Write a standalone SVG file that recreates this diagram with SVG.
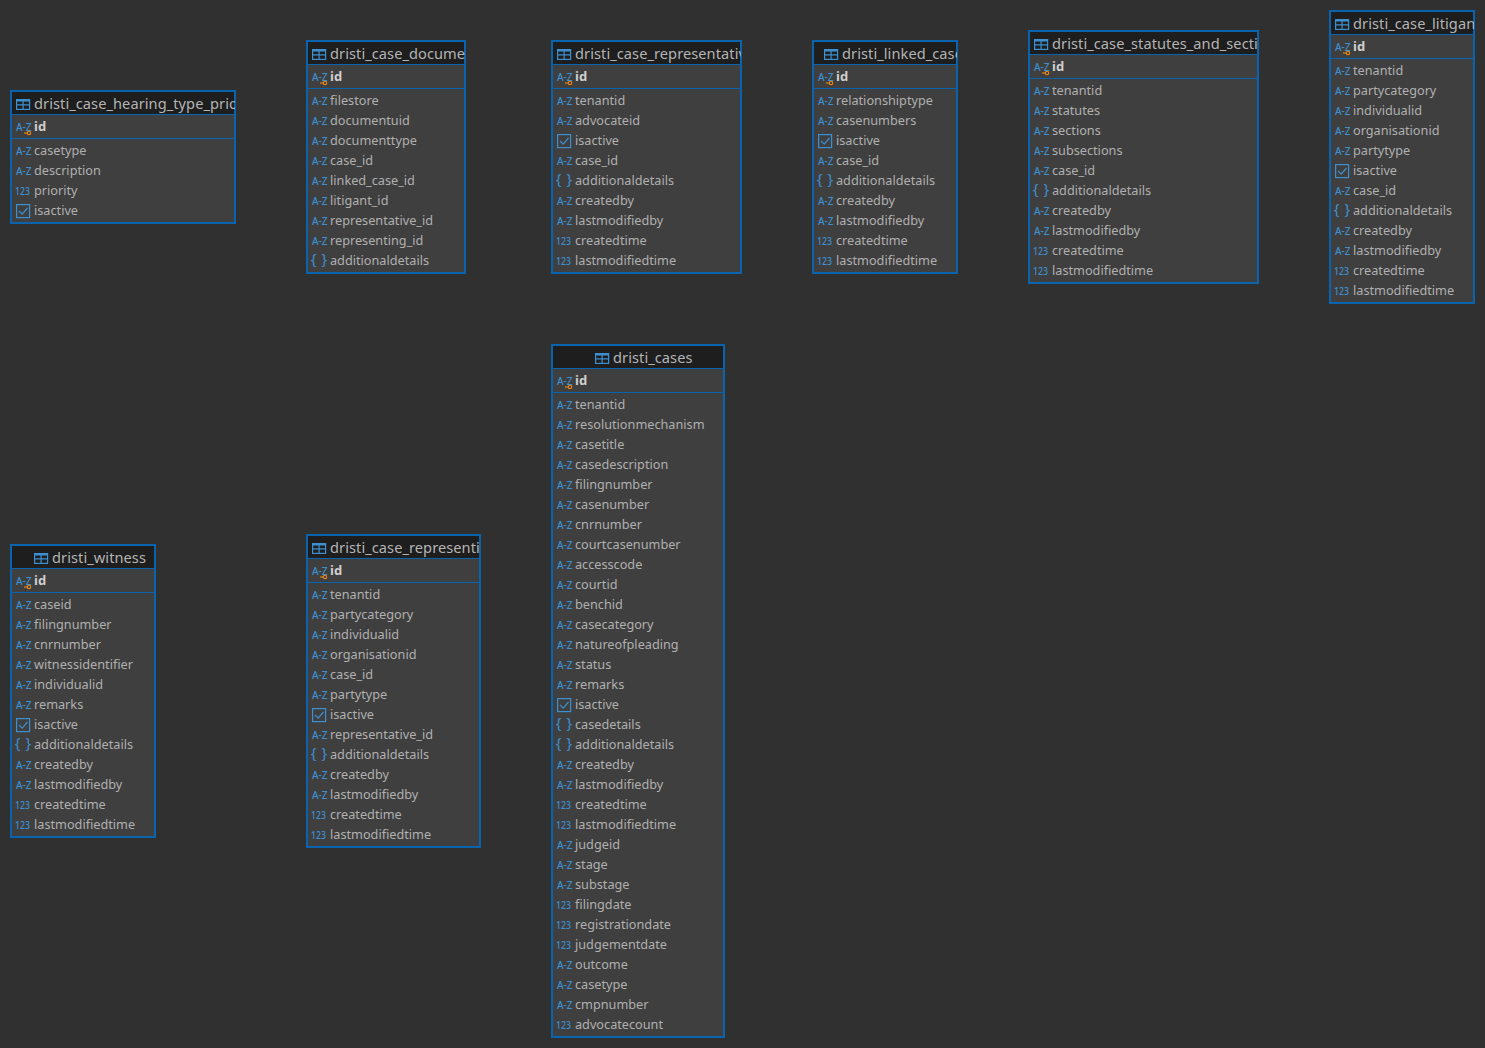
<svg xmlns="http://www.w3.org/2000/svg" width="1485" height="1048" viewBox="0 0 1485 1048">
<style>
text{font-family:"Noto Sans","Open Sans",sans-serif}
.box{fill:#3f3f3f;stroke:#0a64ad;stroke-width:2}
.hd{fill:#1e1e1e}
.ln{stroke:#0a64ad;stroke-width:1}
.t{font-size:14.6px;letter-spacing:.07px;fill:#b4b4b4}
.r{font-size:12.7px;fill:#b0b0b0}
.b{font-size:13px;font-weight:700;fill:#cfcfcf}
.i{fill:#3d8fd0;font-weight:500;font-size:10px}
.n{fill:#3d8fd0;font-size:11.5px;font-weight:500}
.c{fill:#3d8fd0;font-size:15px}
.s{fill:none;stroke:#3d8fd0;stroke-width:1.2}
.f{fill:#3d8fd0}
.k{fill:none;stroke:#f08a12;stroke-width:1.1}
</style>
<defs>
<g id="tb"><rect class="s" x=".6" y="1.600" width="13" height="9.800"/><rect class="f" y="1" width="14" height="2.500"/><path class="s" d="M.6 6.800H13.400M7.100 3V11"/></g>
<g id="az"><text class="i" x="0" y="5">A-Z</text></g>
<g id="key"><text class="i" x="0" y="4.700">A-Z</text><path class="k" d="M8 7h3.500"/><circle class="k" cx="13" cy="7" r="1.700"/></g>
<g id="nm"><text class="n" x="-1" y="5.300" textLength="15" lengthAdjust="spacingAndGlyphs">123</text></g>
<g id="br"><text class="c" x="-1.300" y="4.200">{</text><text class="c" x="9.500" y="4.200">}</text></g>
<g id="ck"><rect class="s" x=".6" y="-5.400" width="13" height="13"/><path class="s" d="M3 1l3.200 3.200L11.500-2"/></g>
<clipPath id="c1"><rect x="11" y="91" width="224" height="24"/></clipPath>
<clipPath id="c2"><rect x="307" y="41" width="158" height="24"/></clipPath>
<clipPath id="c3"><rect x="552" y="41" width="189" height="24"/></clipPath>
<clipPath id="c4"><rect x="813" y="41" width="144" height="24"/></clipPath>
<clipPath id="c5"><rect x="1029" y="31" width="229" height="24"/></clipPath>
<clipPath id="c6"><rect x="1330" y="11" width="144" height="24"/></clipPath>
<clipPath id="c9"><rect x="307" y="535" width="173" height="24"/></clipPath>
</defs>
<rect width="1485" height="1048" fill="#303030"/>
<g id="connectors"/>

<g id="dristi_case_hearing_type_priority">
<rect class="box" x="11" y="91" width="224" height="132"/>
<rect class="hd" x="12" y="92" width="222" height="22"/>
<path class="ln" d="M11 114.500H235M11 138.500H235"/>
<use href="#tb" x="16" y="98"/>
<text class="t" x="34" y="109" clip-path="url(#c1)">dristi_case_hearing_type_priority</text>
<use href="#key" x="16" y="126"/><text class="b" x="34" y="131">id</text>
<use href="#az" x="16" y="150"/><text class="r" x="34" y="155">casetype</text>
<use href="#az" x="16" y="170"/><text class="r" x="34" y="175">description</text>
<use href="#nm" x="16" y="190"/><text class="r" x="34" y="195">priority</text>
<use href="#ck" x="16" y="210"/><text class="r" x="34" y="215">isactive</text>
</g>

<g id="dristi_case_documents">
<rect class="box" x="307" y="41" width="158" height="232"/>
<rect class="hd" x="308" y="42" width="156" height="22"/>
<path class="ln" d="M307 64.500H465M307 88.500H465"/>
<use href="#tb" x="312" y="48"/>
<text class="t" x="330" y="59" clip-path="url(#c2)">dristi_case_documents</text>
<use href="#key" x="312" y="76"/><text class="b" x="330" y="81">id</text>
<use href="#az" x="312" y="100"/><text class="r" x="330" y="105">filestore</text>
<use href="#az" x="312" y="120"/><text class="r" x="330" y="125">documentuid</text>
<use href="#az" x="312" y="140"/><text class="r" x="330" y="145">documenttype</text>
<use href="#az" x="312" y="160"/><text class="r" x="330" y="165">case_id</text>
<use href="#az" x="312" y="180"/><text class="r" x="330" y="185">linked_case_id</text>
<use href="#az" x="312" y="200"/><text class="r" x="330" y="205">litigant_id</text>
<use href="#az" x="312" y="220"/><text class="r" x="330" y="225">representative_id</text>
<use href="#az" x="312" y="240"/><text class="r" x="330" y="245">representing_id</text>
<use href="#br" x="312" y="260"/><text class="r" x="330" y="265">additionaldetails</text>
</g>

<g id="dristi_case_representatives">
<rect class="box" x="552" y="41" width="189" height="232"/>
<rect class="hd" x="553" y="42" width="187" height="22"/>
<path class="ln" d="M552 64.500H741M552 88.500H741"/>
<use href="#tb" x="557" y="48"/>
<text class="t" x="575" y="59" clip-path="url(#c3)">dristi_case_representatives</text>
<use href="#key" x="557" y="76"/><text class="b" x="575" y="81">id</text>
<use href="#az" x="557" y="100"/><text class="r" x="575" y="105">tenantid</text>
<use href="#az" x="557" y="120"/><text class="r" x="575" y="125">advocateid</text>
<use href="#ck" x="557" y="140"/><text class="r" x="575" y="145">isactive</text>
<use href="#az" x="557" y="160"/><text class="r" x="575" y="165">case_id</text>
<use href="#br" x="557" y="180"/><text class="r" x="575" y="185">additionaldetails</text>
<use href="#az" x="557" y="200"/><text class="r" x="575" y="205">createdby</text>
<use href="#az" x="557" y="220"/><text class="r" x="575" y="225">lastmodifiedby</text>
<use href="#nm" x="557" y="240"/><text class="r" x="575" y="245">createdtime</text>
<use href="#nm" x="557" y="260"/><text class="r" x="575" y="265">lastmodifiedtime</text>
</g>

<g id="dristi_linked_cases">
<rect class="box" x="813" y="41" width="144" height="232"/>
<rect class="hd" x="814" y="42" width="142" height="22"/>
<path class="ln" d="M813 64.500H957M813 88.500H957"/>
<use href="#tb" x="824" y="48"/>
<text class="t" x="842" y="59" clip-path="url(#c4)">dristi_linked_cases</text>
<use href="#key" x="818" y="76"/><text class="b" x="836" y="81">id</text>
<use href="#az" x="818" y="100"/><text class="r" x="836" y="105">relationshiptype</text>
<use href="#az" x="818" y="120"/><text class="r" x="836" y="125">casenumbers</text>
<use href="#ck" x="818" y="140"/><text class="r" x="836" y="145">isactive</text>
<use href="#az" x="818" y="160"/><text class="r" x="836" y="165">case_id</text>
<use href="#br" x="818" y="180"/><text class="r" x="836" y="185">additionaldetails</text>
<use href="#az" x="818" y="200"/><text class="r" x="836" y="205">createdby</text>
<use href="#az" x="818" y="220"/><text class="r" x="836" y="225">lastmodifiedby</text>
<use href="#nm" x="818" y="240"/><text class="r" x="836" y="245">createdtime</text>
<use href="#nm" x="818" y="260"/><text class="r" x="836" y="265">lastmodifiedtime</text>
</g>

<g id="dristi_case_statutes_and_sections">
<rect class="box" x="1029" y="31" width="229" height="252"/>
<rect class="hd" x="1030" y="32" width="227" height="22"/>
<path class="ln" d="M1029 54.500H1258M1029 78.500H1258"/>
<use href="#tb" x="1034" y="38"/>
<text class="t" x="1052" y="49" clip-path="url(#c5)">dristi_case_statutes_and_sections</text>
<use href="#key" x="1034" y="66"/><text class="b" x="1052" y="71">id</text>
<use href="#az" x="1034" y="90"/><text class="r" x="1052" y="95">tenantid</text>
<use href="#az" x="1034" y="110"/><text class="r" x="1052" y="115">statutes</text>
<use href="#az" x="1034" y="130"/><text class="r" x="1052" y="135">sections</text>
<use href="#az" x="1034" y="150"/><text class="r" x="1052" y="155">subsections</text>
<use href="#az" x="1034" y="170"/><text class="r" x="1052" y="175">case_id</text>
<use href="#br" x="1034" y="190"/><text class="r" x="1052" y="195">additionaldetails</text>
<use href="#az" x="1034" y="210"/><text class="r" x="1052" y="215">createdby</text>
<use href="#az" x="1034" y="230"/><text class="r" x="1052" y="235">lastmodifiedby</text>
<use href="#nm" x="1034" y="250"/><text class="r" x="1052" y="255">createdtime</text>
<use href="#nm" x="1034" y="270"/><text class="r" x="1052" y="275">lastmodifiedtime</text>
</g>

<g id="dristi_case_litigants">
<rect class="box" x="1330" y="11" width="144" height="292"/>
<rect class="hd" x="1331" y="12" width="142" height="22"/>
<path class="ln" d="M1330 34.500H1474M1330 58.500H1474"/>
<use href="#tb" x="1335" y="18"/>
<text class="t" x="1353" y="29" clip-path="url(#c6)">dristi_case_litigants</text>
<use href="#key" x="1335" y="46"/><text class="b" x="1353" y="51">id</text>
<use href="#az" x="1335" y="70"/><text class="r" x="1353" y="75">tenantid</text>
<use href="#az" x="1335" y="90"/><text class="r" x="1353" y="95">partycategory</text>
<use href="#az" x="1335" y="110"/><text class="r" x="1353" y="115">individualid</text>
<use href="#az" x="1335" y="130"/><text class="r" x="1353" y="135">organisationid</text>
<use href="#az" x="1335" y="150"/><text class="r" x="1353" y="155">partytype</text>
<use href="#ck" x="1335" y="170"/><text class="r" x="1353" y="175">isactive</text>
<use href="#az" x="1335" y="190"/><text class="r" x="1353" y="195">case_id</text>
<use href="#br" x="1335" y="210"/><text class="r" x="1353" y="215">additionaldetails</text>
<use href="#az" x="1335" y="230"/><text class="r" x="1353" y="235">createdby</text>
<use href="#az" x="1335" y="250"/><text class="r" x="1353" y="255">lastmodifiedby</text>
<use href="#nm" x="1335" y="270"/><text class="r" x="1353" y="275">createdtime</text>
<use href="#nm" x="1335" y="290"/><text class="r" x="1353" y="295">lastmodifiedtime</text>
</g>

<g id="dristi_cases">
<rect class="box" x="552" y="345" width="172" height="692"/>
<rect class="hd" x="553" y="346" width="170" height="22"/>
<path class="ln" d="M552 368.500H724M552 392.500H724"/>
<use href="#tb" x="595" y="352"/>
<text class="t" x="613" y="363">dristi_cases</text>
<use href="#key" x="557" y="380"/><text class="b" x="575" y="385">id</text>
<use href="#az" x="557" y="404"/><text class="r" x="575" y="409">tenantid</text>
<use href="#az" x="557" y="424"/><text class="r" x="575" y="429">resolutionmechanism</text>
<use href="#az" x="557" y="444"/><text class="r" x="575" y="449">casetitle</text>
<use href="#az" x="557" y="464"/><text class="r" x="575" y="469">casedescription</text>
<use href="#az" x="557" y="484"/><text class="r" x="575" y="489">filingnumber</text>
<use href="#az" x="557" y="504"/><text class="r" x="575" y="509">casenumber</text>
<use href="#az" x="557" y="524"/><text class="r" x="575" y="529">cnrnumber</text>
<use href="#az" x="557" y="544"/><text class="r" x="575" y="549">courtcasenumber</text>
<use href="#az" x="557" y="564"/><text class="r" x="575" y="569">accesscode</text>
<use href="#az" x="557" y="584"/><text class="r" x="575" y="589">courtid</text>
<use href="#az" x="557" y="604"/><text class="r" x="575" y="609">benchid</text>
<use href="#az" x="557" y="624"/><text class="r" x="575" y="629">casecategory</text>
<use href="#az" x="557" y="644"/><text class="r" x="575" y="649">natureofpleading</text>
<use href="#az" x="557" y="664"/><text class="r" x="575" y="669">status</text>
<use href="#az" x="557" y="684"/><text class="r" x="575" y="689">remarks</text>
<use href="#ck" x="557" y="704"/><text class="r" x="575" y="709">isactive</text>
<use href="#br" x="557" y="724"/><text class="r" x="575" y="729">casedetails</text>
<use href="#br" x="557" y="744"/><text class="r" x="575" y="749">additionaldetails</text>
<use href="#az" x="557" y="764"/><text class="r" x="575" y="769">createdby</text>
<use href="#az" x="557" y="784"/><text class="r" x="575" y="789">lastmodifiedby</text>
<use href="#nm" x="557" y="804"/><text class="r" x="575" y="809">createdtime</text>
<use href="#nm" x="557" y="824"/><text class="r" x="575" y="829">lastmodifiedtime</text>
<use href="#az" x="557" y="844"/><text class="r" x="575" y="849">judgeid</text>
<use href="#az" x="557" y="864"/><text class="r" x="575" y="869">stage</text>
<use href="#az" x="557" y="884"/><text class="r" x="575" y="889">substage</text>
<use href="#nm" x="557" y="904"/><text class="r" x="575" y="909">filingdate</text>
<use href="#nm" x="557" y="924"/><text class="r" x="575" y="929">registrationdate</text>
<use href="#nm" x="557" y="944"/><text class="r" x="575" y="949">judgementdate</text>
<use href="#az" x="557" y="964"/><text class="r" x="575" y="969">outcome</text>
<use href="#az" x="557" y="984"/><text class="r" x="575" y="989">casetype</text>
<use href="#az" x="557" y="1004"/><text class="r" x="575" y="1009">cmpnumber</text>
<use href="#nm" x="557" y="1024"/><text class="r" x="575" y="1029">advocatecount</text>
</g>

<g id="dristi_witness">
<rect class="box" x="11" y="545" width="144" height="292"/>
<rect class="hd" x="12" y="546" width="142" height="22"/>
<path class="ln" d="M11 568.500H155M11 592.500H155"/>
<use href="#tb" x="34" y="552"/>
<text class="t" x="52" y="563">dristi_witness</text>
<use href="#key" x="16" y="580"/><text class="b" x="34" y="585">id</text>
<use href="#az" x="16" y="604"/><text class="r" x="34" y="609">caseid</text>
<use href="#az" x="16" y="624"/><text class="r" x="34" y="629">filingnumber</text>
<use href="#az" x="16" y="644"/><text class="r" x="34" y="649">cnrnumber</text>
<use href="#az" x="16" y="664"/><text class="r" x="34" y="669">witnessidentifier</text>
<use href="#az" x="16" y="684"/><text class="r" x="34" y="689">individualid</text>
<use href="#az" x="16" y="704"/><text class="r" x="34" y="709">remarks</text>
<use href="#ck" x="16" y="724"/><text class="r" x="34" y="729">isactive</text>
<use href="#br" x="16" y="744"/><text class="r" x="34" y="749">additionaldetails</text>
<use href="#az" x="16" y="764"/><text class="r" x="34" y="769">createdby</text>
<use href="#az" x="16" y="784"/><text class="r" x="34" y="789">lastmodifiedby</text>
<use href="#nm" x="16" y="804"/><text class="r" x="34" y="809">createdtime</text>
<use href="#nm" x="16" y="824"/><text class="r" x="34" y="829">lastmodifiedtime</text>
</g>

<g id="dristi_case_representing">
<rect class="box" x="307" y="535" width="173" height="312"/>
<rect class="hd" x="308" y="536" width="171" height="22"/>
<path class="ln" d="M307 558.500H480M307 582.500H480"/>
<use href="#tb" x="312" y="542"/>
<text class="t" x="330" y="553" clip-path="url(#c9)">dristi_case_representing</text>
<use href="#key" x="312" y="570"/><text class="b" x="330" y="575">id</text>
<use href="#az" x="312" y="594"/><text class="r" x="330" y="599">tenantid</text>
<use href="#az" x="312" y="614"/><text class="r" x="330" y="619">partycategory</text>
<use href="#az" x="312" y="634"/><text class="r" x="330" y="639">individualid</text>
<use href="#az" x="312" y="654"/><text class="r" x="330" y="659">organisationid</text>
<use href="#az" x="312" y="674"/><text class="r" x="330" y="679">case_id</text>
<use href="#az" x="312" y="694"/><text class="r" x="330" y="699">partytype</text>
<use href="#ck" x="312" y="714"/><text class="r" x="330" y="719">isactive</text>
<use href="#az" x="312" y="734"/><text class="r" x="330" y="739">representative_id</text>
<use href="#br" x="312" y="754"/><text class="r" x="330" y="759">additionaldetails</text>
<use href="#az" x="312" y="774"/><text class="r" x="330" y="779">createdby</text>
<use href="#az" x="312" y="794"/><text class="r" x="330" y="799">lastmodifiedby</text>
<use href="#nm" x="312" y="814"/><text class="r" x="330" y="819">createdtime</text>
<use href="#nm" x="312" y="834"/><text class="r" x="330" y="839">lastmodifiedtime</text>
</g>
</svg>
